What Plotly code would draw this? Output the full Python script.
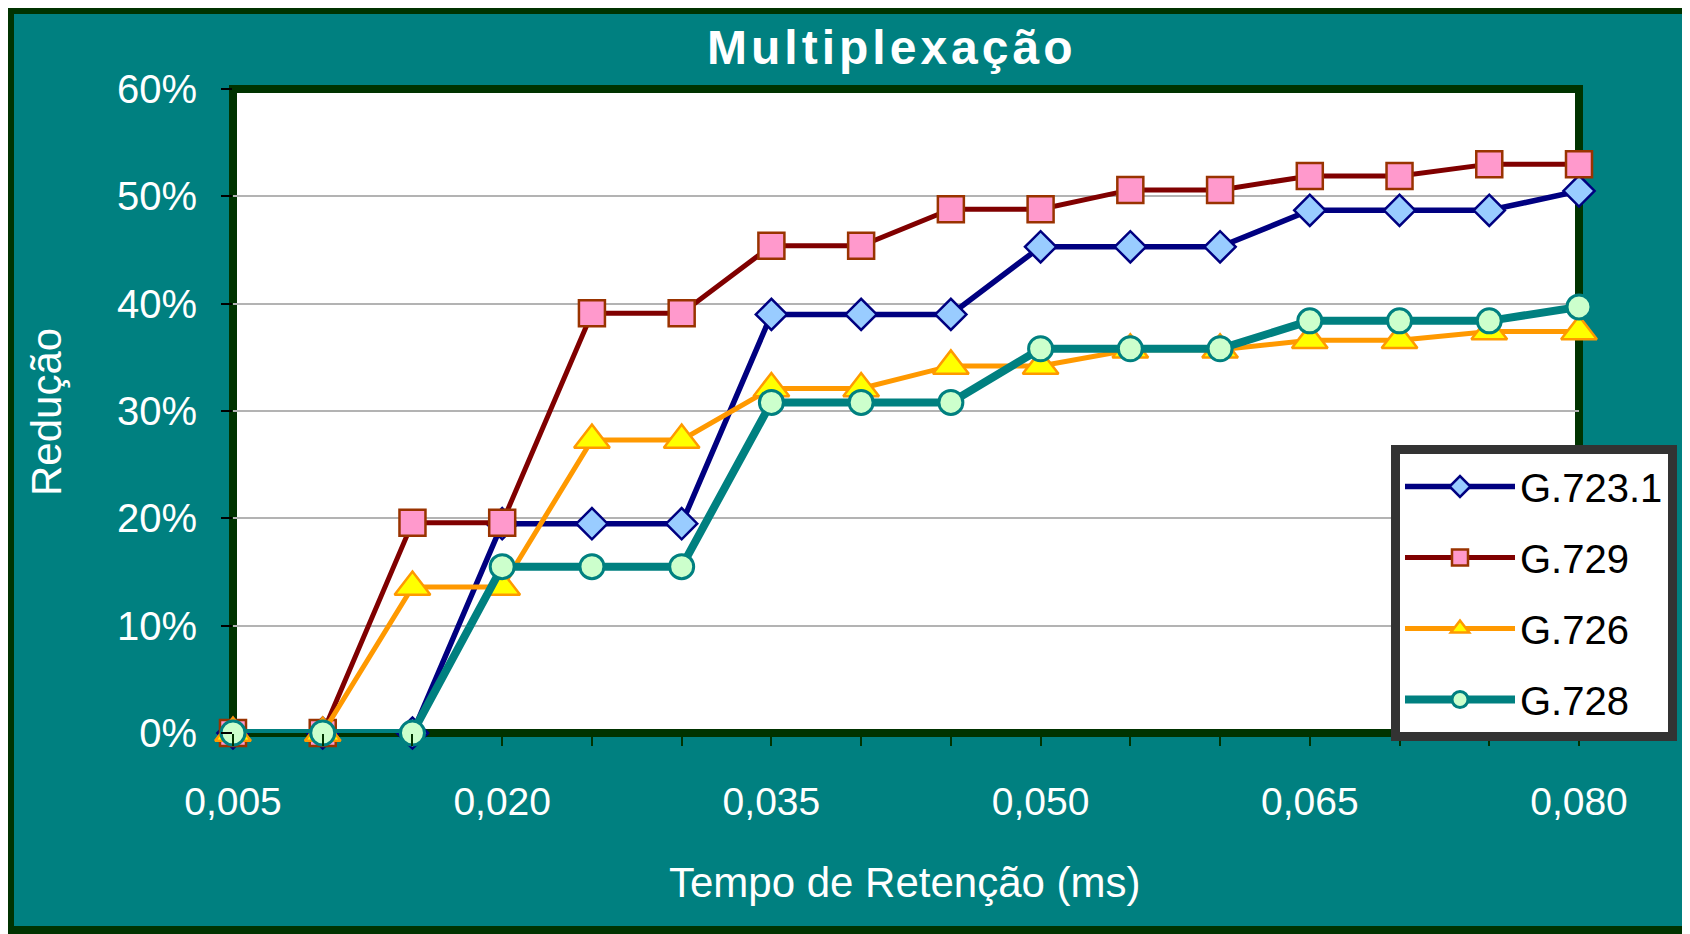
import plotly.graph_objects as go

# ---- data ----
tempo = [0.005, 0.010, 0.015, 0.020, 0.025, 0.030, 0.035, 0.040,
         0.045, 0.050, 0.055, 0.060, 0.065, 0.070, 0.075, 0.080]
g7231 = [0, 0, 0, 19.5, 19.5, 19.5, 39.0, 39.0, 39.0, 45.3, 45.3, 45.3, 48.7, 48.7, 48.7, 50.5]
g729 = [0, 0, 19.6, 19.6, 39.1, 39.1, 45.4, 45.4, 48.8, 48.8, 50.6, 50.6, 51.9, 51.9, 53.0, 53.0]
g726 = [0, 0, 13.6, 13.6, 27.3, 27.3, 32.1, 32.1, 34.2, 34.2, 35.7, 35.7, 36.6, 36.6, 37.4, 37.4]
g728 = [0, 0, 0, 15.5, 15.5, 15.5, 30.8, 30.8, 30.8, 35.8, 35.8, 35.8, 38.4, 38.4, 38.4, 39.7]
tick_vals = [0.005, 0.020, 0.035, 0.050, 0.065, 0.080]
tick_text = ["0,005", "0,020", "0,035", "0,050", "0,065", "0,080"]
series_names = ["G.723.1", "G.729", "G.726", "G.728"]
title_text = "Multiplexação"

# ---- layout geometry (page pixels; the page body adds an 8px offset) ----
OFF = 8
FW, FH = 1690 - OFF, 934 - OFF
L, R, T, B = 233, 1579, 89, 733
W, H = R - L, B - T


def px(x):
    return (x - L) / W


def py(y):
    return (B - y) / H


FONT = "Liberation Sans, Arial, sans-serif"
TEAL = "#008080"
DARK = "#003300"

styles = [
    dict(line=dict(color="#000080", width=5.5),
         marker=dict(symbol="diamond", size=24, color="#99ccff",
                     line=dict(color="#000080", width=2.5))),
    dict(line=dict(color="#800000", width=5),
         marker=dict(symbol="square", size=26, color="#ff99cc",
                     line=dict(color="#993300", width=2.5))),
    dict(line=dict(color="#ff9900", width=5),
         marker=dict(symbol="triangle-up", size=31, color="#ffff00",
                     line=dict(color="#ff9900", width=2.5))),
    dict(line=dict(color="#008080", width=8),
         marker=dict(symbol="circle", size=24, color="#ccffcc",
                     line=dict(color="#008080", width=3))),
]

fig = go.Figure()
for name, vals, st in zip(series_names, [g7231, g729, g726, g728], styles):
    fig.add_trace(go.Scatter(x=tempo, y=vals, name=name, mode="lines+markers",
                             legendgroup=name, cliponaxis=False, **st))

shapes = [
    # outer frame
    dict(type="rect", xref="paper", yref="paper", layer="below",
         x0=px(10), x1=px(1687), y0=py(930), y1=py(10),
         fillcolor=TEAL, line=dict(color=DARK, width=8)),
    # plot area
    dict(type="rect", xref="paper", yref="paper", layer="below",
         x0=0, x1=1, y0=0, y1=1,
         fillcolor="white", line=dict(color=DARK, width=8)),
]

annotations = [
    dict(text="<b>" + "\u200a".join(title_text) + "</b>", xref="paper", yref="paper",
         x=px(890), y=py(48), xanchor="center", yanchor="middle", showarrow=False,
         font=dict(family=FONT, size=48, color="white")),
    dict(text="Tempo de Retenção (ms)", xref="paper", yref="paper",
         x=px(905), y=py(882), xanchor="center", yanchor="middle", showarrow=False,
         font=dict(family=FONT, size=42, color="white")),
    dict(text="Redução", xref="paper", yref="paper", textangle=-90,
         x=px(46), y=py(412), xanchor="center", yanchor="middle", showarrow=False,
         font=dict(family=FONT, size=42, color="white")),
]

fig.update_layout(
    width=FW, height=FH,
    margin=dict(l=L - OFF, r=FW - (R - OFF), t=T - OFF, b=FH - (B - OFF), pad=0),
    paper_bgcolor="white",
    plot_bgcolor="rgba(0,0,0,0)",
    shapes=shapes,
    annotations=annotations,
    showlegend=True,
    legend=dict(
        x=px(1391), y=py(445), xanchor="left", yanchor="top",
        bgcolor="white", bordercolor="#333333", borderwidth=9,
        font=dict(family=FONT, size=40, color="black"),
        itemwidth=110, tracegroupgap=16, traceorder="grouped",
    ),
    font=dict(family=FONT, color="white"),
)

fig.update_xaxes(
    range=[0.005, 0.080], tickvals=tick_vals, ticktext=tick_text,
    showgrid=False, zeroline=False, showline=False,
    ticks="outside", ticklen=12, tickwidth=2, tickcolor=DARK,
    minor=dict(dtick=0.005, tick0=0.005, ticks="outside", ticklen=12, tickwidth=2, tickcolor=DARK),
    tickfont=dict(family=FONT, size=39, color="white"),
    ticklabelstandoff=22,
)
fig.update_yaxes(
    range=[0, 60], dtick=10, ticksuffix="%",
    showgrid=True, gridcolor="#b3b3b3", gridwidth=2,
    zeroline=False, showline=False,
    ticks="outside", ticklen=11, tickwidth=2, tickcolor="black",
    tickfont=dict(family=FONT, size=40, color="white"),
    ticklabelstandoff=16,
)

fig.write_html("out.html")
